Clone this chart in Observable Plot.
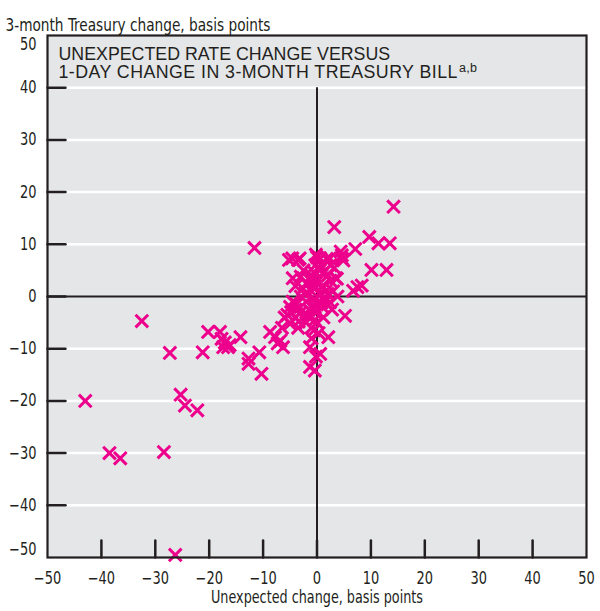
<!DOCTYPE html>
<html><head><meta charset="utf-8">
<script src="https://cdn.jsdelivr.net/npm/d3@7"></script>
<script src="https://cdn.jsdelivr.net/npm/@observablehq/plot@0.6"></script>
<style>body{margin:0;background:#fff} svg{display:block}</style>
</head><body><div id="chart"></div>
<script>
// Unexpected rate change (x) and 1-day 3-month T-bill change (y), basis points
const unexpected = [
  -43, -38.5, -36.5, -32.5, -28.4, -27.3, -26.3, -25.3, -24.5, -22.2,
  -21.2, -20.2, -18, -17.7, -17.1, -16.5, -17.4, -16.2, -14.2, -12.7,
  -12.7, -10.7, -10.3, -11.6, -8.7, -7.8, -7.3, -6.3, -6.8,
  14.2, 3.2, 9.7, 11.4, 13.5, 7.1, 4.6, 4.9, 4.4, 10.1,
  12.9, 8.3, 6.7, 7.5, 5.2, 2.4, 3.7, 2.1, 0.6, -1.3,
  -1.3, -0.4, -0.2,
  -3.5, -5.2, 0, -0.3, 1.8, 0.5, -1, -4.5, -3, -4,
  -2, 0.2, 1, 2, 2.5, 3.5, 3, -1, 0.5, -0.5,
  -2, -3, -4.5, -5, -5.5, -4, -3, -1.5, -0.3, 1,
  1.5, 2, 0, -1, -2, -3.5, -5, -6, -6.5, 0.3,
  1.2, -0.5, 0.8, -0.2, 2.5, -2.5, -1.5, -4, 0, -1,
  -4.6, -3.2, 0.6, 2.4, 4.6, -0.4, -0.4, -0.4, -0.4, -0.6,
  0.2, -1.2, -2.2, -3.8, -4.8, 1.6, 2.8, 3.2, -1.8, -2.6,
  0.8, -0.8, 1.4, -3.4, 3.8
];
const treasury = [
  -20, -30, -31, -4.7, -29.8, -10.8, -49.5, -18.8, -20.9, -21.8,
  -10.7, -6.8, -6.8, -8.1, -8.8, -9.7, -9.7, -9.3, -7.8, -11.9,
  -12.9, -10.7, -14.8, 9.3, -6.8, -7.8, -9, -9.7, -8.5,
  17.2, 13.3, 11.4, 10.2, 10.2, 9.1, 7.9, 6.9, 8.6, 5.1,
  5.1, 2.1, 1.1, 1.8, -3.7, -1.1, 3.4, -7.8, -11, -9.7,
  -13.5, -14.2, -11.5,
  7, 7, 7.5, 6, 7.2, 5, 4, 3.5, 3.8, 2,
  2.5, 3, 2, 4, 3, 3.5, 1, 1, 0.5, -0.5,
  -1, 0, -1, -2, -3.5, -4, -3, -2.5, -3, -2,
  -1, 0.5, -5, -6, -5, -6, -5.2, -4, -6, -7,
  -4, 1.5, 6, 8, 6, 5, -4, -2.5, -1.5, -8,
  7.3, 7.3, 7.3, 7.3, 7.3, 4.5, 2, -2, -4.5, -6.5,
  5.5, 3, 0.5, -1.5, -3, 1, -2.5, 5.5, -3.5, 1.5,
  -1.2, 3.2, 4.8, -4.8, 0
];
const xTicks = [-50, -40, -30, -20, -10, 0, 10, 20, 30, 40, 50];
const yTicks = [-50, -40, -30, -20, -10, 0, 10, 20, 30, 40, 50];
const gridValues = [-40, -30, -20, -10, 10, 20, 30, 40];
const titleLines = ["UNEXPECTED RATE CHANGE VERSUS", "1-DAY CHANGE IN 3-MONTH TREASURY BILL"];
const titleNote = "a,b";
const yLabel = "3-month Treasury change, basis points";
const xLabel = "Unexpected change, basis points";

const points = unexpected.map((x, i) => ({x, y: treasury[i]}));
const fmt = d => d < 0 ? "\u2212" + Math.abs(d) : String(d);
const COND = "'Liberation Sans Narrow','DejaVu Sans Condensed','Roboto Condensed',sans-serif";
const SANS = "'Liberation Sans',Arial,sans-serif";
const INK = "#231f20";
const tickShape = {draw(ctx, l) { ctx.moveTo(0, 0); ctx.lineTo(0, -l); }};
const midY = yTicks.filter(d => d !== 50 && d !== -50);
const inner = v => v !== 50 && v !== -50;

const chart = Plot.plot({
  width: 600, height: 611,
  marginLeft: 47, marginRight: 14, marginTop: 35, marginBottom: 54,
  x: {domain: [-50, 50]},
  y: {domain: [-50, 50]},
  axis: null,
  style: {background: "#fff"},
  marks: [
    Plot.frame({fill: "#e5e6e8", stroke: null}),
    Plot.ruleY(gridValues, {stroke: "#fff", strokeWidth: 2.5}),
    Plot.ruleY([0], {stroke: INK, strokeWidth: 2}),
    Plot.ruleX([0], {y1: -50, y2: 40, stroke: INK, strokeWidth: 2}),
    Plot.vector(yTicks.filter(inner), {x: () => -50, y: d => d, length: 18, rotate: 90, anchor: "start", shape: tickShape, stroke: INK, strokeWidth: 2.5}),
    Plot.vector(xTicks.filter(inner), {x: d => d, y: () => -50, length: 17, rotate: 0, anchor: "start", shape: tickShape, stroke: INK, strokeWidth: 2.5}),
    Plot.dot(points, {x: "x", y: "y", symbol: "times", r: 5.8, stroke: "#ec008c", strokeWidth: 3}),
    Plot.frame({stroke: INK, strokeWidth: 2.2}),
    Plot.text(midY, {x: () => -50, y: d => d, text: fmt, dx: -11, textAnchor: "end", fontFamily: COND, fontSize: 17, fill: INK, className: "cond"}),
    Plot.text([50], {x: () => -50, y: d => d, text: fmt, dx: -11, dy: 9, textAnchor: "end", fontFamily: COND, fontSize: 17, fill: INK, className: "cond"}),
    Plot.text([-50], {x: () => -50, y: d => d, text: fmt, dx: -11, dy: -8, textAnchor: "end", fontFamily: COND, fontSize: 17, fill: INK, className: "cond"}),
    Plot.text(xTicks, {x: d => d, y: () => -50, text: fmt, dy: 21, fontFamily: COND, fontSize: 17, fill: INK, className: "cond"}),
    Plot.text([xLabel], {frameAnchor: "bottom", dy: 45, fontFamily: COND, fontSize: 17, fill: INK, className: "xlab"}),
    Plot.text([yLabel], {frameAnchor: "top-left", dx: -42, dy: -17, textAnchor: "start", fontFamily: COND, fontSize: 17, fill: INK, className: "ylab"}),
    Plot.text([titleLines[0]], {frameAnchor: "top-left", dx: 11, dy: 24, lineAnchor: "bottom", textAnchor: "start", fontFamily: SANS, fontSize: 17.8, fill: INK}),
    Plot.text([titleLines[1]], {frameAnchor: "top-left", dx: 11, dy: 42, lineAnchor: "bottom", textAnchor: "start", fontFamily: SANS, fontSize: 17.8, fill: INK, className: "title2"})
  ]
});
document.getElementById("chart").append(chart);
// emulate the condensed typeface of the original
d3.select(chart).selectAll(".cond text").each(function() {
  const L = this.getComputedTextLength();
  this.setAttribute("textLength", (L * 0.85).toFixed(1));
  this.setAttribute("lengthAdjust", "spacingAndGlyphs");
});
d3.select(chart).select(".xlab text").attr("textLength", 212).attr("lengthAdjust", "spacingAndGlyphs");
d3.select(chart).select(".ylab text").attr("textLength", 265).attr("lengthAdjust", "spacingAndGlyphs");
// second title line: slightly wider tracking, then superscript note
const t2 = d3.select(chart).select(".title2 text").attr("letter-spacing", "0.45px");
t2.append("tspan").attr("dy", "-0.45em").attr("font-size", "12.5px").attr("dx", "1").attr("letter-spacing", "0.3px").text(titleNote);
</script>
</body></html>
